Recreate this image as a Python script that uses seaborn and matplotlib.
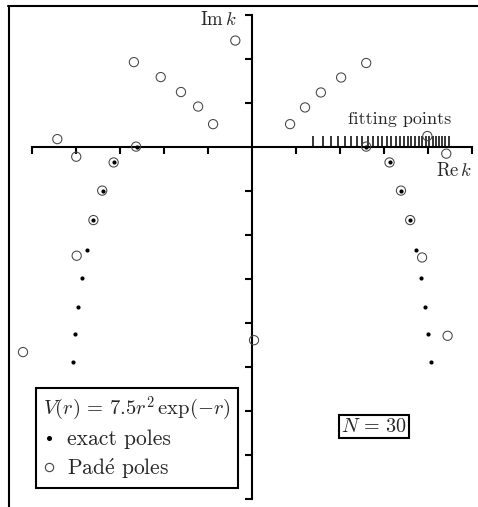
import matplotlib
matplotlib.use('Agg')
import pandas as pd
import matplotlib.pyplot as plt
from matplotlib.lines import Line2D
import seaborn as sns

# exact poles, right half (the left half is the mirror image, -Re k)
exact_re = [2.60, 3.13, 3.39, 3.60, 3.74, 3.85, 3.94, 4.01, 4.07]
exact_im = [0.00, -0.36, -1.00, -1.67, -2.34, -2.99, -3.65, -4.27, -4.90]

# Pade poles
pade_re = [-0.375, -2.68, -2.07, -1.61, -1.22, -0.88, -4.42, -3.99, -2.63, -3.14,
           -3.40, -3.60, -3.98, -5.20, 0.05, 0.87, 1.21, 1.57, 2.03, 2.60,
           3.99, 4.42, 2.60, 3.13, 3.39, 3.60, 3.87, 4.45]
pade_im = [2.41, 1.92, 1.58, 1.24, 0.91, 0.51, 0.17, -0.23, 0.00, -0.36,
           -1.00, -1.67, -2.48, -4.67, -4.40, 0.51, 0.89, 1.23, 1.57, 1.90,
           0.24, -0.16, 0.00, -0.36, -1.00, -1.67, -2.52, -4.30]

# fitting points on the real k axis
fit_k = [1.400, 1.607, 1.790, 1.956, 2.109, 2.252, 2.386, 2.513, 2.634, 2.749,
         2.860, 2.967, 3.070, 3.170, 3.266, 3.360, 3.451, 3.540, 3.627, 3.712,
         3.795, 3.876, 3.955, 4.033, 4.110, 4.184, 4.258, 4.331, 4.402, 4.472]

x_ticks = [-5, -4, -3, -2, -1, 1, 2, 3, 4, 5]
y_ticks = [-8, -7, -6, -5, -4, -3, -2, -1, 1, 2, 3]

sns.set_style('white')
plt.rcParams['font.family'] = ['cmr10', 'DejaVu Serif']
plt.rcParams['mathtext.fontset'] = 'cm'
plt.rcParams['axes.unicode_minus'] = False

exact = pd.DataFrame({'re': [-x for x in exact_re] + exact_re,
                      'im': exact_im + exact_im})
pade = pd.DataFrame({'re': pade_re, 'im': pade_im})

W, H = 478, 507
fig = plt.figure(figsize=(W / 100, H / 100), dpi=100)
ax = fig.add_axes([0, 0, 1, 1])
ax.set_xlim(-251.8 / 44, (W - 251.8) / 44)
ax.set_ylim(-(H - 146.6) / 44, 146.6 / 44)

sns.scatterplot(data=pade, x='re', y='im', ax=ax, marker='o', s=44,
                facecolor='none', edgecolor='#444444', linewidth=0.75, zorder=3)
sns.scatterplot(data=exact, x='re', y='im', ax=ax, marker='o', s=9,
                color='black', edgecolor='black', linewidth=0, zorder=4)

ax.vlines(fit_k, 0, 0.25, color='black', lw=1.1, zorder=2)

# axes through the origin
for s in ['top', 'right']:
    ax.spines[s].set_visible(False)
ax.spines['left'].set_position(('data', 0))
ax.spines['bottom'].set_position(('data', 0))
ax.spines['left'].set_bounds(-8, 3)
ax.spines['bottom'].set_bounds(-5, 5)
for s in ['left', 'bottom']:
    ax.spines[s].set_linewidth(1.5)
    ax.spines[s].set_color('black')
ax.set_xticks(x_ticks)
ax.set_yticks(y_ticks)
ax.tick_params(bottom=True, left=True, direction='out', length=5, width=1.5,
               color='black', labelbottom=False, labelleft=False)
ax.set_xlabel('')
ax.set_ylabel('')

def fx(px):
    return px / W

def fy(py):
    return 1 - py / H

ax.text(fx(237), fy(20), r'$\mathrm{Im}\,k$', transform=ax.transAxes,
        ha='right', va='center', fontsize=13.5)
ax.text(fx(472), fy(171), r'$\mathrm{Re}\,k$', transform=ax.transAxes,
        ha='right', va='center', fontsize=13.5)
ax.text(fx(400), fy(119), 'fitting points', transform=ax.transAxes,
        ha='center', va='center', fontsize=13)
ax.text(fx(374), fy(426.5), r'$N\,=\,30$', transform=ax.transAxes,
        ha='center', va='center', fontsize=14.5,
        bbox=dict(boxstyle='square,pad=0.12', fc='white', ec='black', lw=1.5))

handles = [Line2D([], [], ls='none', marker='o', ms=2.6, color='black'),
           Line2D([], [], ls='none', marker='o', ms=6, mfc='none',
                  mec='#444444', mew=0.8)]
leg = ax.legend(handles, ['exact poles', r'Pad$\mathrm{\acute{e}}$ poles'],
                title=r'$V(r)\,=\,7.5r^2\,\exp(-r)$',
                loc='upper left', bbox_to_anchor=(fx(35.7), fy(387.7)),
                bbox_transform=ax.transAxes, frameon=True, fancybox=False,
                edgecolor='black', framealpha=1, borderaxespad=0,
                handlelength=0.5, handletextpad=0.6, borderpad=0.35,
                labelspacing=0.3, fontsize=15.5, title_fontsize=14.8)
leg.get_frame().set_linewidth(1.5)
leg._legend_box.align = 'left'

# outer frame: top and left edges only
fig.add_artist(Line2D([fx(8), 1], [fy(5.5), fy(5.5)], color='black', lw=1.5,
                      transform=fig.transFigure))
fig.add_artist(Line2D([fx(9), fx(9)], [fy(5.5), 0], color='black', lw=1.5,
                      transform=fig.transFigure))

fig.savefig('out.png', dpi=100)
